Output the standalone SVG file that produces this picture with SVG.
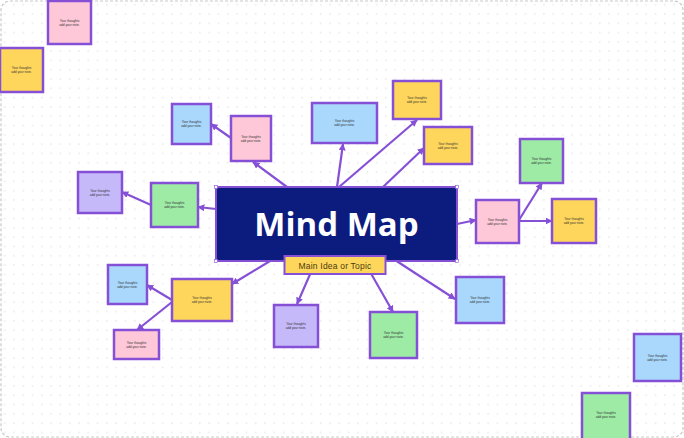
<svg xmlns="http://www.w3.org/2000/svg" width="684" height="438" viewBox="0 0 684 438">
<defs>
<pattern id="dots" width="9.3" height="9.3" patternUnits="userSpaceOnUse">
<circle cx="4.6" cy="4.6" r="0.7" fill="#d9d9d9"/>
</pattern>
<marker id="arr" viewBox="0 0 10 10" refX="9" refY="5" markerWidth="3.2" markerHeight="3.2" orient="auto">
<path d="M0,0 L10,5 L0,10 z" fill="#8650d6"/>
</marker>
<style>
.n{stroke:#8650d6;stroke-width:2.5}
.pk{fill:#ffc8d8}.yl{fill:#ffd65c}.bl{fill:#a9d8fc}.gr{fill:#9eeba6}.pu{fill:#c5b9f9}
.t{font-family:"Liberation Sans",Arial,sans-serif;font-size:3.2px;fill:#333;text-anchor:middle}
.e{stroke:#8650d6;stroke-width:2.2;fill:none;marker-end:url(#arr)}
</style>
</defs>
<rect width="684" height="438" fill="#ffffff"/>
<rect width="684" height="438" fill="url(#dots)"/>
<rect x="1" y="1" width="682" height="436" rx="9" fill="none" stroke="#c9c9c9" stroke-width="1.2" stroke-dasharray="3 2"/>

<g id="connectors">
<line class="e" x1="287" y1="187" x2="253" y2="162"/>
<line class="e" x1="231" y1="138" x2="211" y2="124"/>
<line class="e" x1="337" y1="187" x2="343" y2="144"/>
<line class="e" x1="339" y1="187" x2="417" y2="120"/>
<line class="e" x1="383" y1="187" x2="424" y2="148"/>
<line class="e" x1="457" y1="224" x2="476" y2="220"/>
<line class="e" x1="519" y1="220" x2="542" y2="183"/>
<line class="e" x1="519" y1="221" x2="552" y2="221"/>
<line class="e" x1="216" y1="209" x2="198" y2="207"/>
<line class="e" x1="151" y1="205" x2="122" y2="192"/>
<line class="e" x1="270" y1="261" x2="232" y2="284"/>
<line class="e" x1="172" y1="300" x2="147" y2="285"/>
<line class="e" x1="172" y1="302" x2="137" y2="330"/>
<line class="e" x1="315" y1="263" x2="297" y2="304"/>
<line class="e" x1="365" y1="263" x2="393" y2="312"/>
<line class="e" x1="395" y1="260" x2="455" y2="299"/>
</g>

<g id="n1"><rect class="n pk" x="48" y="1" width="43" height="43"/><text class="t" x="69.5" y="21.5">Your thoughts</text><text class="t" x="69.5" y="25.5">add your note.</text></g>
<g id="n2"><rect class="n yl" x="0" y="48" width="43" height="44"/><text class="t" x="21.5" y="69">Your thoughts</text><text class="t" x="21.5" y="73">add your note.</text></g>
<g id="n3"><rect class="n bl" x="172" y="104" width="39" height="40"/><text class="t" x="191.5" y="123">Your thoughts</text><text class="t" x="191.5" y="127">add your note.</text></g>
<g id="n4"><rect class="n pk" x="231" y="116" width="40" height="45"/><text class="t" x="251" y="137.5">Your thoughts</text><text class="t" x="251" y="141.5">add your note.</text></g>
<g id="n5"><rect class="n bl" x="312" y="103" width="65" height="40"/><text class="t" x="344.5" y="122">Your thoughts</text><text class="t" x="344.5" y="126">add your note.</text></g>
<g id="n6"><rect class="n yl" x="393" y="81" width="48" height="38"/><text class="t" x="417" y="99">Your thoughts</text><text class="t" x="417" y="103">add your note.</text></g>
<g id="n7"><rect class="n yl" x="424" y="127" width="48" height="37"/><text class="t" x="448" y="144.5">Your thoughts</text><text class="t" x="448" y="148.5">add your note.</text></g>
<g id="n8"><rect class="n gr" x="520" y="139" width="43" height="44"/><text class="t" x="541.5" y="160">Your thoughts</text><text class="t" x="541.5" y="164">add your note.</text></g>
<g id="n9"><rect class="n pk" x="476" y="200" width="43" height="43"/><text class="t" x="497.5" y="220.5">Your thoughts</text><text class="t" x="497.5" y="224.5">add your note.</text></g>
<g id="n10"><rect class="n yl" x="552" y="199" width="44" height="44"/><text class="t" x="574" y="220">Your thoughts</text><text class="t" x="574" y="224">add your note.</text></g>
<g id="n11"><rect class="n pu" x="78" y="172" width="44" height="41"/><text class="t" x="100" y="191.5">Your thoughts</text><text class="t" x="100" y="195.5">add your note.</text></g>
<g id="n12"><rect class="n gr" x="151" y="183" width="47" height="44"/><text class="t" x="174.5" y="204">Your thoughts</text><text class="t" x="174.5" y="208">add your note.</text></g>

<g id="central">
<rect x="216" y="187" width="241" height="74" fill="#0b1b7e" stroke="#8650d6" stroke-width="2"/>
<g fill="#ffffff" stroke="#8650d6" stroke-width="0.6">
<rect x="214.5" y="185.5" width="3" height="3"/><rect x="455.5" y="185.5" width="3" height="3"/>
<rect x="214.5" y="259.5" width="3" height="3"/><rect x="455.5" y="259.5" width="3" height="3"/>
</g>
<text x="336.5" y="236" font-family="'Open Sans',Lato,sans-serif" font-weight="700" font-size="33" fill="#ffffff" text-anchor="middle">Mind Map</text>
</g>
<g id="label">
<rect x="284.5" y="256" width="101" height="18" fill="#ffd65c" stroke="#8650d6" stroke-width="2"/>
<text x="335" y="268.5" font-family="'Liberation Sans',Arial,sans-serif" font-size="8.5" fill="#4a3c10" text-anchor="middle" letter-spacing="0.2">Main Idea or Topic</text>
</g>

<g id="n15"><rect class="n bl" x="108" y="265" width="39" height="39"/><text class="t" x="127.5" y="284">Your thoughts</text><text class="t" x="127.5" y="288">add your note.</text></g>
<g id="n16"><rect class="n yl" x="172" y="279" width="60" height="42"/><text class="t" x="202" y="299">Your thoughts</text><text class="t" x="202" y="303">add your note.</text></g>
<g id="n17"><rect class="n pk" x="114" y="330" width="45" height="29"/><text class="t" x="136.5" y="343.5">Your thoughts</text><text class="t" x="136.5" y="347.5">add your note.</text></g>
<g id="n18"><rect class="n pu" x="274" y="305" width="44" height="42"/><text class="t" x="296" y="325">Your thoughts</text><text class="t" x="296" y="329">add your note.</text></g>
<g id="n19"><rect class="n gr" x="370" y="312" width="47" height="46"/><text class="t" x="393.5" y="334">Your thoughts</text><text class="t" x="393.5" y="338">add your note.</text></g>
<g id="n20"><rect class="n bl" x="456" y="277" width="48" height="46"/><text class="t" x="480" y="299">Your thoughts</text><text class="t" x="480" y="303">add your note.</text></g>
<g id="n21"><rect class="n bl" x="634" y="334" width="47" height="47"/><text class="t" x="657.5" y="356.5">Your thoughts</text><text class="t" x="657.5" y="360.5">add your note.</text></g>
<g id="n22"><rect class="n gr" x="582" y="393" width="48" height="47"/><text class="t" x="606" y="414">Your thoughts</text><text class="t" x="606" y="418">add your note.</text></g>
</svg>
